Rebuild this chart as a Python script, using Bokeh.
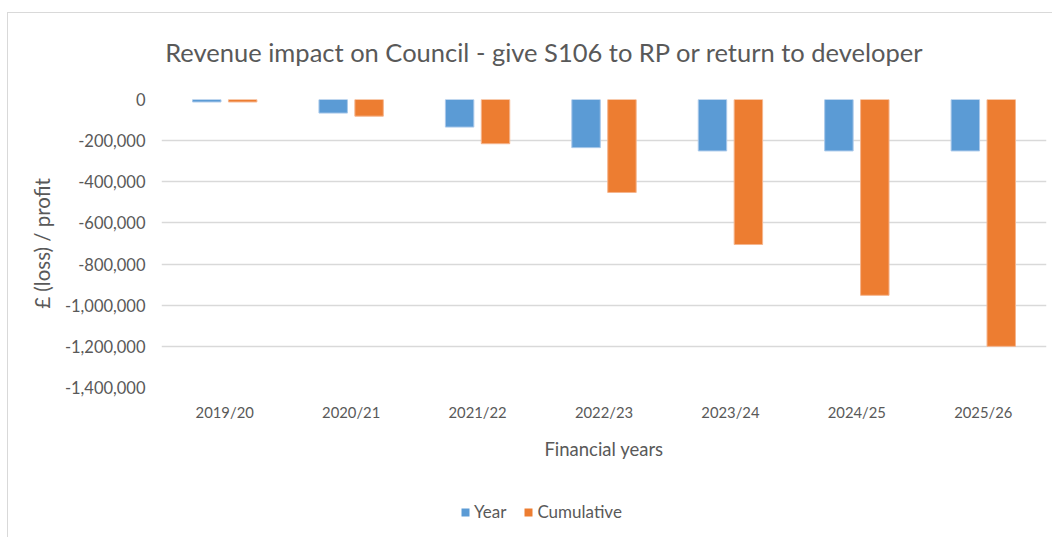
from bokeh.plotting import figure
from bokeh.layouts import column
from bokeh.models import (FactorRange, Range1d, FixedTicker, NumeralTickFormatter,
                          Legend, LegendItem, Label, ColumnDataSource)
from bokeh.transform import dodge
from bokeh.embed import file_html
from bokeh.resources import INLINE

categories = ["2019/20", "2020/21", "2021/22", "2022/23", "2023/24", "2024/25", "2025/26"]
year_values = [-12000, -66000, -134000, -234000, -250000, -250000, -250000]
cumulative_values = [-12000, -81000, -215000, -452000, -705000, -952000, -1200000]
y_ticks = [0, -200000, -400000, -600000, -800000, -1000000, -1200000, -1400000]
series_names = ["Year", "Cumulative"]
series_colors = ["#5B9BD5", "#ED7D31"]
title_text = "Revenue impact on Council - give S106 to RP or return to developer"

FONT = "Lato"
GREY = "#595959"
W = 1044

src = ColumnDataSource(dict(cat=categories, year=year_values, cum=cumulative_values))
x_range = FactorRange(*categories, range_padding=0)

# ---- title strip (frame aligned with main chart frame) ----
pt = figure(width=W, height=73, output_backend="svg", toolbar_location=None,
            x_range=Range1d(0, 1), y_range=Range1d(0, 1),
            x_axis_location=None, y_axis_location=None,
            min_border_left=0, min_border_right=0, min_border_top=0, min_border_bottom=0)
pt.outline_line_color = None
pt.grid.visible = False
pt.add_layout(Label(x=383, y=35, x_units="screen", y_units="screen", text=title_text,
                    text_font=FONT, text_font_size="25.5px", text_color=GREY,
                    text_align="center", text_baseline="middle"))

# ---- main chart ----
p = figure(width=W, height=407, output_backend="svg", toolbar_location=None,
           x_range=x_range, y_range=Range1d(-1400000, 0),
           min_border_left=153, min_border_right=6, min_border_top=13, min_border_bottom=106)
p.outline_line_color = None
p.background_fill_color = "white"
p.border_fill_color = "white"

p.vbar(x=dodge("cat", -0.142, range=x_range), top="year", bottom=0, width=0.225,
       source=src, fill_color=series_colors[0], line_color="#A9C8EA", line_width=1)
p.vbar(x=dodge("cat", 0.142, range=x_range), top="cum", bottom=0, width=0.225,
       source=src, fill_color=series_colors[1], line_color="#F5B58E", line_width=1)

p.yaxis.ticker = FixedTicker(ticks=y_ticks)
p.yaxis.formatter = NumeralTickFormatter(format="0,0")
p.yaxis.axis_line_color = None
p.yaxis.major_tick_line_color = None
p.yaxis.minor_tick_line_color = None
p.yaxis.major_label_text_font = FONT
p.yaxis.major_label_text_font_size = "16.5px"
p.yaxis.major_label_text_color = GREY
p.yaxis.major_label_standoff = 10
p.yaxis.axis_label = "£ (loss) / profit"
p.yaxis.axis_label_text_font = FONT
p.yaxis.axis_label_text_font_size = "20.5px"
p.yaxis.axis_label_text_font_style = "normal"
p.yaxis.axis_label_text_color = GREY
p.yaxis.axis_label_standoff = 8

p.xaxis.axis_line_color = None
p.xaxis.major_tick_line_color = None
p.xaxis.minor_tick_line_color = None
p.xaxis.major_label_text_font = FONT
p.xaxis.major_label_text_font_size = "14.8px"
p.xaxis.major_label_text_color = GREY
p.xaxis.major_label_standoff = 9
p.xaxis.axis_label = "Financial years"
p.xaxis.axis_label_text_font = FONT
p.xaxis.axis_label_text_font_size = "18.5px"
p.xaxis.axis_label_text_font_style = "normal"
p.xaxis.axis_label_text_color = GREY
p.xaxis.axis_label_standoff = 14

p.xgrid.grid_line_color = None
p.ygrid.grid_line_color = "#D9D9D9"
p.ygrid.grid_line_width = 1.5

# ---- legend strip: same series, bars fall outside its (0..1) range so only the legend shows ----
pl = figure(width=W, height=44, output_backend="svg", toolbar_location=None,
            x_range=x_range, y_range=Range1d(0, 1),
            x_axis_location=None, y_axis_location=None,
            min_border_left=0, min_border_right=0, min_border_top=0, min_border_bottom=0)
pl.outline_line_color = None
pl.grid.visible = False
lr1 = pl.vbar(x=dodge("cat", -0.142, range=x_range), top="year", bottom=0, width=0.225,
              source=src, fill_color=series_colors[0], line_color=None)
lr2 = pl.vbar(x=dodge("cat", 0.142, range=x_range), top="cum", bottom=0, width=0.225,
              source=src, fill_color=series_colors[1], line_color=None)
legend = Legend(items=[LegendItem(label=series_names[0], renderers=[lr1]),
                       LegendItem(label=series_names[1], renderers=[lr2])],
                orientation="horizontal", location=(299, 15),
                label_text_font=FONT, label_text_font_size="17px", label_text_color=GREY,
                glyph_width=10, glyph_height=10, label_standoff=4, spacing=17,
                padding=0, margin=0, border_line_color=None, background_fill_alpha=0)
pl.add_layout(legend)

layout = column(pt, p, pl, spacing=0,
                styles={"margin-left": "7px", "margin-top": "12px",
                        "border-left": "1px solid #D9D9D9", "border-top": "1px solid #D9D9D9"})

open("out.html", "w").write(file_html(layout, INLINE))
